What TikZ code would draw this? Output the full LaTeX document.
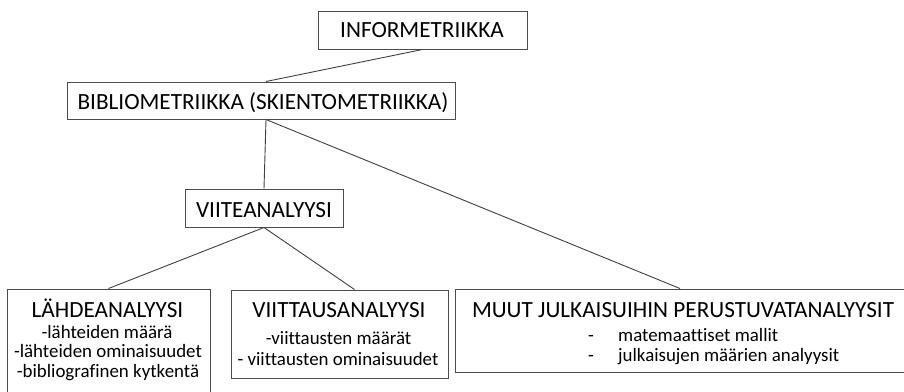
\documentclass[tikz,border=0pt]{standalone}
\usepackage{fontspec}
\setmainfont[Ligatures=NoCommon]{Carlito}
\begin{document}
\begin{tikzpicture}[x=1pt,y=-1pt,
  box/.style={draw=black!70,line width=1pt,inner sep=0pt,fill=white},
  link/.style={draw=black!75,line width=0.9pt},
  head/.style={anchor=base,inner sep=0pt,font=\fontsize{23.2}{27}\selectfont},
  sub/.style={anchor=base,inner sep=0pt,font=\fontsize{18.9}{22}\selectfont}]
\useasboundingbox (0,0) rectangle (904,391);
\clip (0,0) rectangle (904,391);
% boxes
\node[box,minimum width=209pt,minimum height=38pt] (info) at (422.5,30) {};
\node[box,minimum width=388pt,minimum height=37pt] (biblio) at (261,100.5) {};
\node[box,minimum width=158pt,minimum height=38pt] (viite) at (264,208) {};
\node[box,minimum width=203pt,minimum height=111pt] (lahde) at (108.5,344.5) {};
\node[box,minimum width=217pt,minimum height=88pt] (viitt) at (339.5,334) {};
\node[box,minimum width=456pt,minimum height=83pt] (muut) at (683,330.5) {};
% connectors
\draw[link] (info.south) -- ([xshift=5pt]biblio.north);
\draw[link] ([xshift=5pt]biblio.south) -- (viite.north);
\draw[link] ([xshift=5pt]biblio.south) -- ([xshift=-3pt]muut.north);
\draw[link] (viite.south) -- (lahde.north);
\draw[link] (viite.south) -- ([xshift=15pt]viitt.north);
% texts
\node[head] (tinfo) at (422,37) {INFORMETRIIKKA};
\node[head] (tbiblio) at (263,109) {BIBLIOMETRIIKKA (SKIENTOMETRIIKKA)};
\node[head] (tviite) at (264,217) {VIITEANALYYSI};
\node[head] (tlahde) at (107.5,317) {LÄHDEANALYYSI};
\node[sub] (l1) at (107,338) {-lähteiden määrä};
\node[sub] (l2) at (108,357.5) {-lähteiden ominaisuudet};
\node[sub] (l3) at (108,377) {-bibliografinen kytkentä};
\node[head] (tviitt) at (339,317) {VIITTAUSANALYYSI};
\node[sub] (v1) at (338.5,344) {-viittausten määrät};
\node[sub] (v2) at (338,365) {- viittausten ominaisuudet};
\node[head] (tmuut) at (683,317) {MUUT JULKAISUIHIN PERUSTUVATANALYYSIT};
\node[sub,anchor=base west] (m1d) at (588,341) {-};
\node[sub,anchor=base west] (m1) at (618,341) {matemaattiset mallit};
\node[sub,anchor=base west] (m2d) at (588,361) {-};
\node[sub,anchor=base west] (m2) at (618,361) {julkaisujen määrien analyysit};
\end{tikzpicture}
\end{document}
